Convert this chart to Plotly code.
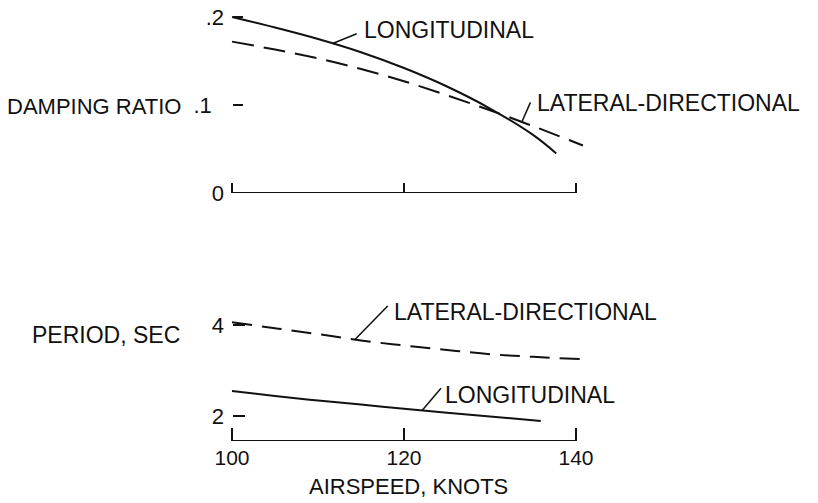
import numpy as np
import plotly.graph_objects as go

# ---------------- data ----------------
speed_long_damp = [100, 105, 110, 115, 120, 125, 130, 135, 137.7]
damp_long = [0.200, 0.188, 0.175, 0.160, 0.142, 0.121, 0.096, 0.066, 0.045]

speed_lat_damp = [100, 105, 110, 115, 120, 125, 130, 135, 140.8]
damp_lat = [0.172, 0.163, 0.153, 0.141, 0.127, 0.111, 0.094, 0.076, 0.054]

speed_long_per = [100, 105, 110, 115, 120, 125, 130, 135.9]
period_long = [2.55, 2.44, 2.34, 2.25, 2.16, 2.07, 1.99, 1.89]

speed_lat_per = [100, 105, 110, 115, 120, 125, 130, 135, 140.8]
period_lat = [4.06, 3.93, 3.80, 3.66, 3.55, 3.45, 3.36, 3.30, 3.25]

x_ticks = [100, 120, 140]
x_tick_labels = ["100", "120", "140"]
damp_ticks = [0, 0.1, 0.2]
damp_tick_labels = ["0", ".1  ", ".2"]
period_ticks = [2, 4]
period_tick_labels = ["2", "4"]

# curve labels: text, panel, series, text anchor (x, y), leader start x on curve, leader end (x, y)
labels = [
    ("LONGITUDINAL", "top", speed_long_damp, damp_long, (115.1, 0.185), 111.7, (114.5, 0.181)),
    ("LATERAL-DIRECTIONAL", "top", speed_lat_damp, damp_lat, (135.2, 0.102), 133.7, (134.7, 0.103)),
    ("LATERAL-DIRECTIONAL", "bot", speed_lat_per, period_lat, (118.6, 4.29), 114.3, (118.1, 4.42)),
    ("LONGITUDINAL", "bot", speed_long_per, period_long, (124.5, 2.46), 122.1, (124.3, 2.61)),
]

W, H = 818, 503
FONT = "Liberation Sans, Arial, sans-serif"
BLACK = "#111111"
LABEL_SIZE = 23

fig = go.Figure()

fig.add_trace(go.Scatter(x=speed_long_damp, y=damp_long, mode="lines",
                         line=dict(color=BLACK, width=2), line_shape="spline",
                         xaxis="x", yaxis="y", showlegend=False, hoverinfo="skip"))
fig.add_trace(go.Scatter(x=speed_lat_damp, y=damp_lat, mode="lines",
                         line=dict(color=BLACK, width=2, dash="22px,10px"), line_shape="spline",
                         xaxis="x", yaxis="y", showlegend=False, hoverinfo="skip"))
fig.add_trace(go.Scatter(x=speed_long_per, y=period_long, mode="lines",
                         line=dict(color=BLACK, width=2), line_shape="spline",
                         xaxis="x2", yaxis="y2", showlegend=False, hoverinfo="skip"))
fig.add_trace(go.Scatter(x=speed_lat_per, y=period_lat, mode="lines",
                         line=dict(color=BLACK, width=2, dash="20px,10px"), line_shape="spline",
                         xaxis="x2", yaxis="y2", showlegend=False, hoverinfo="skip"))

x_range = [96.28, 144.88]
x_dom = [200 / W, 618 / W]
y_pos = 232 / W
top_dom = [1 - 193 / H, 1 - 5 / H]
bot_dom = [1 - 441 / H, 1 - 300 / H]
top_range = [0, 188 / 880]
bot_range = [1.45, 4.55]

shapes = []
# axis base lines from first to last tick
shapes.append(dict(type="line", xref="x", yref="y", x0=x_ticks[0], x1=x_ticks[-1],
                   y0=top_range[0], y1=top_range[0], line=dict(color=BLACK, width=2)))
shapes.append(dict(type="line", xref="x2", yref="y2", x0=x_ticks[0], x1=x_ticks[-1],
                   y0=bot_range[0], y1=bot_range[0], line=dict(color=BLACK, width=2)))

annotations = []
for text, panel, xs, ys, (tx, ty), lx, (ex, ey) in labels:
    xr, yr = ("x", "y") if panel == "top" else ("x2", "y2")
    ly = float(np.interp(lx, xs, ys))
    shapes.append(dict(type="line", xref=xr, yref=yr, x0=lx, y0=ly, x1=ex, y1=ey,
                       line=dict(color=BLACK, width=1.5)))
    annotations.append(dict(text=text, xref=xr, yref=yr, x=tx, y=ty, xanchor="left",
                            yanchor="middle", showarrow=False,
                            font=dict(family=FONT, size=LABEL_SIZE, color=BLACK)))

annotations.append(dict(text="DAMPING RATIO", xref="paper", yref="paper", x=5 / W, y=1 - 107 / H,
                        xanchor="left", yanchor="middle", showarrow=False,
                        font=dict(family=FONT, size=22, color=BLACK)))
annotations.append(dict(text="PERIOD, SEC", xref="paper", yref="paper", x=30 / W, y=1 - 335 / H,
                        xanchor="left", yanchor="middle", showarrow=False,
                        font=dict(family=FONT, size=23, color=BLACK)))
annotations.append(dict(text="AIRSPEED, KNOTS", xref="paper", yref="paper", x=408 / W, y=1 - 486 / H,
                        xanchor="center", yanchor="middle", showarrow=False,
                        font=dict(family=FONT, size=22, color=BLACK)))

common_x = dict(range=x_range, domain=x_dom, showgrid=False, zeroline=False, showline=False,
                tickmode="array", tickvals=x_ticks, ticks="inside", tickwidth=2,
                tickcolor=BLACK, automargin=False)
common_y = dict(showgrid=False, zeroline=False, showline=False, anchor="free", position=y_pos,
                tickmode="array", ticks="inside", tickwidth=2, tickcolor=BLACK, automargin=False,
                tickfont=dict(family=FONT, size=22, color=BLACK))

fig.update_layout(
    width=W, height=H, autosize=False,
    margin=dict(l=0, r=0, t=0, b=0, pad=0),
    paper_bgcolor="white", plot_bgcolor="white",
    font=dict(family=FONT, size=22, color=BLACK),
    xaxis=dict(**common_x, anchor="y", ticklen=10, showticklabels=False),
    xaxis2=dict(**common_x, anchor="y2", ticklen=13, ticktext=x_tick_labels,
                tickfont=dict(family=FONT, size=21, color=BLACK),
                ticklabelstandoff=2),
    yaxis=dict(**common_y, domain=top_dom, range=top_range, tickvals=damp_ticks,
               ticktext=damp_tick_labels, ticklen=10, ticklabelstandoff=8),
    yaxis2=dict(**common_y, domain=bot_dom, range=bot_range, tickvals=period_ticks,
                ticktext=period_tick_labels, ticklen=12, ticklabelstandoff=8),
    shapes=shapes,
    annotations=annotations,
)

fig.write_html("out.html", config={"displayModeBar": False},
               post_script="document.body.style.margin='0';document.body.style.overflow='hidden';")
